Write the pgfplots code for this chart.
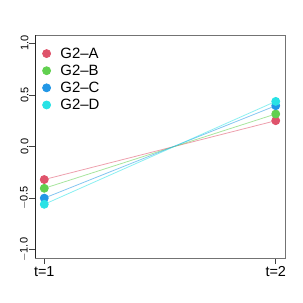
\documentclass[border=0pt]{standalone}
\usepackage{pgfplots}
\pgfplotsset{compat=1.18}
\usepackage{fontspec}
\setmainfont{Liberation Sans}
\definecolor{cA}{HTML}{DF536B}
\definecolor{cB}{HTML}{61D04F}
\definecolor{cC}{HTML}{2297E6}
\definecolor{cD}{HTML}{28E2E5}
\begin{document}
\begin{tikzpicture}[x=1bp,y=1bp]
\begin{axis}[name=ax,
  scale only axis, width=250bp, height=223bp,
  xmin=0.96, xmax=2.04, ymin=-1.08, ymax=1.08,
  xtick={1,2}, xticklabels={t=1,t=2},
  ytick={-1,-0.5,0,0.5,1},
  yticklabels={$-$1.0,$-$0.5,0.0,0.5,1.0},
  yticklabel style={rotate=90, anchor=south, yshift=-3bp, font=\fontsize{11}{12}\selectfont},
  xticklabel style={font=\fontsize{14.5}{15}\selectfont, yshift=1bp},
  tick align=outside, major tick length=6bp,
  tick style={black!75, line width=0.6bp},
  axis line style={black!55, line width=0.8bp},
  xtick pos=bottom, ytick pos=left,
  legend style={draw=none, fill=none, at={(0.02,0.96)}, anchor=north west,
    font=\fontsize{15}{16}\selectfont, row sep=2.2bp, inner sep=2bp,
    nodes={inner sep=1.5bp}},
  legend cell align=left,
  legend image code/.code={\fill[#1] (4.5bp,0bp) circle (4bp); \path (16.5bp,0bp);},
  every axis plot/.append style={line width=0.8bp},
]
\addplot[cA, opacity=0.55, forget plot] coordinates {(1,-0.32) (2,0.25)};
\addplot[cB, opacity=0.55, forget plot] coordinates {(1,-0.405) (2,0.315)};
\addplot[cC, opacity=0.55, forget plot] coordinates {(1,-0.50) (2,0.395)};
\addplot[cD, opacity=0.55, forget plot] coordinates {(1,-0.56) (2,0.437)};
\addplot[only marks, mark=*, mark size=4bp, color=cA, mark options={draw=none, fill=cA}] coordinates {(1,-0.32) (2,0.25)};
\addplot[only marks, mark=*, mark size=4bp, color=cB, mark options={draw=none, fill=cB}] coordinates {(1,-0.405) (2,0.315)};
\addplot[only marks, mark=*, mark size=4bp, color=cC, mark options={draw=none, fill=cC}] coordinates {(1,-0.50) (2,0.395)};
\addplot[only marks, mark=*, mark size=4bp, color=cD, mark options={draw=none, fill=cD}] coordinates {(1,-0.56) (2,0.437)};
\legend{G2--A,G2--B,G2--C,G2--D}
\end{axis}
\draw[black!85, line width=0.8bp] (ax.south west) -- (ax.north west);
\pgfresetboundingbox
\path ([xshift=-35bp,yshift=-45bp]ax.south west) rectangle ([xshift=18bp,yshift=35bp]ax.north east);
\end{tikzpicture}
\end{document}
